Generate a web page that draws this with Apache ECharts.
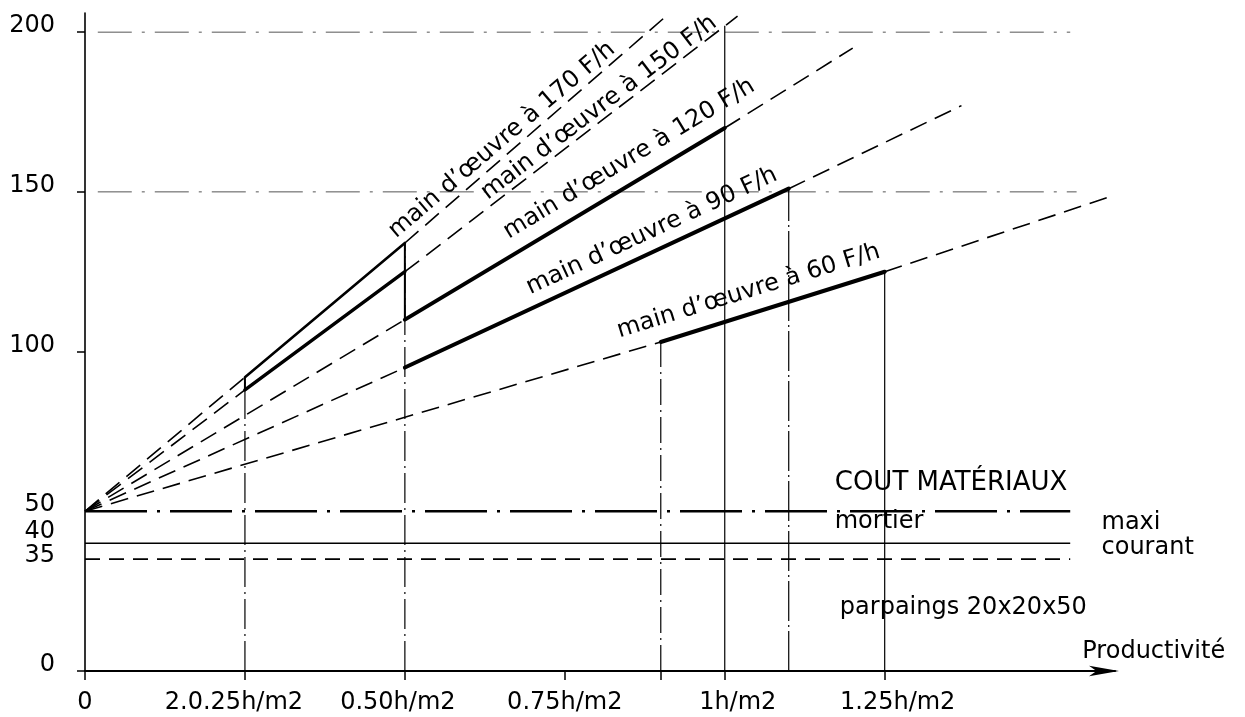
<!DOCTYPE html>
<html>
<head>
<meta charset="utf-8">
<title>Coût parpaings</title>
<script src="https://cdn.jsdelivr.net/npm/echarts@6/dist/echarts.min.js"></script>
<style>
  html, body { margin: 0; background: #fff; }
  #main { width: 1245px; height: 717px; }
</style>
</head>
<body>
<div id="main"></div>
<script>
// valeurs : x en h/m2, y en F/m2
const xTickValues = [0, 0.25, 0.5, 0.75, 1, 1.25]
const xTickLabels = ['0', '2.0.25h/m2', '0.50h/m2', '0.75h/m2', '1h/m2', '1.25h/m2']
const xTickMarks = [0, 0.25, 0.5, 0.75, 0.9, 1, 1.25]
const yTickValues = [0, 35, 40, 50, 100, 150, 200]
const yTickMarks = [0, 100, 150, 200]

// droites main d'oeuvre (pointillés) : départ commun, fin
const rateNames = ['main d’œuvre à 170 F/h', 'main d’œuvre à 150 F/h', 'main d’œuvre à 120 F/h', 'main d’œuvre à 90 F/h', 'main d’œuvre à 60 F/h']
const rateStart = [0, 50]
const rateEnd = [[0.914, 206], [1.02, 205], [1.2, 195], [1.37, 177], [1.61, 149]]
// parties en trait plein
const rateSolid = [
  [[0.25, 92], [0.5, 134]],
  [[0.25, 88], [0.5, 125]],
  [[0.5, 110], [1.0, 170]],
  [[0.5, 95], [1.1, 151]],
  [[0.9, 103], [1.25, 125]]
]
const joinX = [0.25, 0.5]
const joinFrom = [88, 110]
const joinTo = [92, 134]

// coût matériaux
const materialCost = [50, 40, 35]
const materialEnd = 1.54
const gridLevels = [150, 200]
const gridEnd = [1.55, 1.54]

// verticales de rappel
const dropX = [0.25, 0.5, 0.9, 1, 1.1, 1.25]
const dropTop = [92, 134, 103, 202, 151, 125]

const noteTexts = ['COUT MATÉRIAUX', 'mortier', 'maxi', 'courant', 'parpaings 20x20x50', 'Productivité']

const xMax = 1.61
const yMax = 206
const G = { left: 85, right: 130, top: 13, bottom: 46 }
const pxX = (1245 - G.left - G.right) / xMax
const pxY = (717 - G.top - G.bottom) / yMax
const FONT = 'DejaVu Sans'

function seg(data, style, z) {
  return {
    type: 'line',
    data: data,
    symbol: 'none',
    silent: true,
    animation: false,
    z: z || 2,
    lineStyle: Object.assign({ color: '#000', width: 1 }, style)
  }
}

const series = []

// lignes horizontales fines 150 / 200
gridLevels.forEach((v, i) => {
  series.push(seg([[0.02, v], [gridEnd[i], v]], { width: 1, color: '#555', type: [34, 10, 3, 10] }, 1))
})

// verticales
const dropStyles = [
  { type: [30, 5, 2, 5] },
  { type: [30, 5, 2, 5] },
  { type: [26, 5, 2, 5] },
  { type: 'solid' },
  { type: [40, 4, 2, 4] },
  { type: 'solid' }
]
dropX.forEach((x, i) => {
  series.push(seg([[x, 0], [x, dropTop[i]]], Object.assign({ width: 1.2 }, dropStyles[i]), 1))
})
joinX.forEach((x, i) => {
  series.push(seg([[x, joinFrom[i]], [x, joinTo[i]]], { width: 2 }, 3))
})

// matériaux
series.push(seg([[0, materialCost[0]], [materialEnd, materialCost[0]]], { width: 2.6, type: [62, 10, 3, 10] }))
series.push(seg([[0, materialCost[1]], [materialEnd, materialCost[1]]], { width: 1.7 }))
series.push(seg([[0, materialCost[2]], [materialEnd, materialCost[2]]], { width: 1.7, type: [15, 9] }))

// main d'oeuvre : pointillés avant et après le trait plein
const solidWidth = [2.6, 3.4, 4, 4, 4]
rateEnd.forEach((e, i) => {
  const s = rateSolid[i]
  series.push(seg([rateStart, s[0]], { width: 1.6, type: [18, 9] }))
  series.push(seg([s[1], e], { width: 1.6, type: [18, 9] }))
  series.push(seg(s, { width: solidWidth[i], cap: 'round' }, 3))
})

// étiquettes inclinées le long des droites
const labelAnchor = [[0.492, 134], [0.635, 146], [0.675, 131], [0.705, 114], [0.84, 101.5]]
const labelGap = [0, 0, 10, 8, 4]
series.push({
  type: 'scatter',
  silent: true,
  animation: false,
  symbolSize: 0.1,
  itemStyle: { color: 'rgba(0,0,0,0)', opacity: 1 },
  z: 5,
  label: {
    show: true,
    position: [0, 0],
    align: 'left',
    verticalAlign: 'bottom',
    fontFamily: FONT,
    fontSize: 24,
    color: '#000',
    opacity: 1
  },
  data: rateNames.map((n, i) => {
    const e = rateEnd[i]
    const ang = Math.atan2((e[1] - rateStart[1]) * pxY, (e[0] - rateStart[0]) * pxX) * 180 / Math.PI
    return {
      value: labelAnchor[i],
      label: { formatter: n, rotate: ang, offset: [0, -labelGap[i]] }
    }
  })
})

// textes horizontaux
const notePos = [[1.172, 58.8], [1.172, 46.6], [1.589, 46.3], [1.589, 38.6], [1.18, 19.7], [1.559, 5.9]]
const noteSize = [26, 24, 24, 24, 24, 24]
series.push({
  type: 'scatter',
  silent: true,
  animation: false,
  symbolSize: 0.1,
  itemStyle: { color: 'rgba(0,0,0,0)', opacity: 1 },
  z: 5,
  label: {
    show: true,
    position: [0, 0],
    align: 'left',
    verticalAlign: 'middle',
    fontFamily: FONT,
    fontSize: 24,
    color: '#000',
    opacity: 1
  },
  data: noteTexts.map((t, i) => ({ value: notePos[i], label: { formatter: t, fontSize: noteSize[i] } }))
})

const yRich = {
  n: { fontFamily: FONT, fontSize: 24, color: '#000', padding: [0, 0, 12, 0] },
  f: { fontFamily: FONT, fontSize: 24, color: '#000', padding: [0, 0, 14, 0] },
  q: { fontFamily: FONT, fontSize: 24, color: '#000', padding: [0, 0, 22, 0] },
  t: { fontFamily: FONT, fontSize: 24, color: '#000', padding: [0, 0, 6, 0] }
}
const xRich = {
  n: { fontFamily: FONT, fontSize: 24, color: '#000' },
  l: { fontFamily: FONT, fontSize: 24, color: '#000', padding: [0, 22, 0, 0] },
  m: { fontFamily: FONT, fontSize: 24, color: '#000', padding: [0, 14, 0, 0] },
  r: { fontFamily: FONT, fontSize: 24, color: '#000', padding: [0, 0, 0, 26] }
}

const option = {
  backgroundColor: '#fff',
  animation: false,
  grid: G,
  xAxis: {
    type: 'value',
    min: 0,
    max: xMax,
    splitLine: { show: false },
    axisLine: {
      show: true,
      lineStyle: { color: '#000', width: 2 },
      symbol: ['none', 'arrow'],
      symbolSize: [8, 30],
      symbolOffset: [0, 4]
    },
    axisTick: { show: true, customValues: xTickMarks, length: 9, lineStyle: { color: '#000', width: 1.5 } },
    axisLabel: {
      customValues: xTickValues,
      margin: 20,
      formatter: v => {
        const i = xTickValues.indexOf(v)
        const s = v === 0.25 ? 'l' : v === 0.5 ? 'm' : v >= 1 ? 'r' : 'n'
        return '{' + s + '|' + (i >= 0 ? xTickLabels[i] : '') + '}'
      },
      rich: xRich
    }
  },
  yAxis: {
    type: 'value',
    min: 0,
    max: yMax,
    splitLine: { show: false },
    axisLine: { show: true, lineStyle: { color: '#000', width: 1.6 } },
    axisTick: { show: true, customValues: yTickMarks, length: 8, lineStyle: { color: '#000', width: 1.5 } },
    axisLabel: {
      customValues: yTickValues,
      margin: 30,
      formatter: v => {
        const s = v === 40 ? 'q' : v === 35 ? 't' : v === 50 ? 'f' : 'n'
        return '{' + s + '|' + v + '}'
      },
      rich: yRich
    }
  },
  series: series
}

const chart = echarts.init(document.getElementById('main'), null, { renderer: 'canvas' })
chart.setOption(option)
</script>
</body>
</html>
